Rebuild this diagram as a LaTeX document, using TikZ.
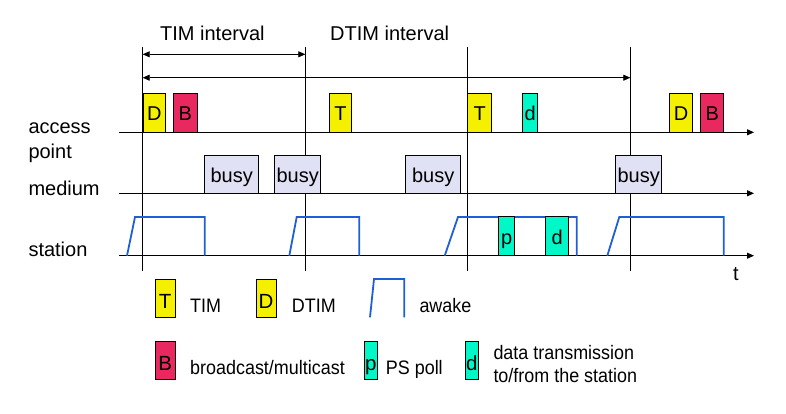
\documentclass[tikz,border=0pt]{standalone}
\usepackage{fontspec}
\setmainfont{Liberation Sans}
\newfontfamily\legfont[FakeStretch=0.92]{Liberation Sans}
\usetikzlibrary{arrows.meta}
\definecolor{dyel}{RGB}{245,240,0}
\definecolor{bred}{RGB}{232,40,95}
\definecolor{dcyan}{RGB}{0,248,200}
\definecolor{busyc}{RGB}{225,225,245}
\definecolor{awblue}{RGB}{30,95,215}
\tikzset{
  tip/.style={-{Triangle[length=7pt,width=6pt]}},
  tiptwo/.style={{Triangle[length=7pt,width=6pt]}-{Triangle[length=7pt,width=6pt]}},
  blk/.style={draw=black,line width=0.8pt},
  axisline/.style={blk,tip},
  vline/.style={blk},
  awk/.style={draw=awblue,line width=1.8pt,line join=miter},
  pkt/.style={draw=black,line width=0.8pt,inner sep=0pt,anchor=south west,
    minimum height=39pt,text height=17pt,text depth=0pt,
    font=\fontsize{20}{24}\selectfont},
  busybox/.style={pkt,fill=busyc,minimum height=38pt,text height=18pt},
  legpkt/.style={draw=black,line width=0.8pt,inner sep=0pt,anchor=south west,
    minimum width=20pt,minimum height=38pt,text height=21pt,text depth=0pt,
    font=\fontsize{20.5}{24}\selectfont},
  lbl/.style={anchor=base west,inner sep=0pt,font=\fontsize{20}{24}\selectfont},
  leglbl/.style={anchor=base west,inner sep=0pt,font=\legfont\fontsize{19.5}{23}\selectfont},
}
\begin{document}
\begin{tikzpicture}[x=1pt,y=-1pt]
\useasboundingbox (0,0) rectangle (786,413);
% vertical marker lines
\foreach \n/\x in {va/142.7,vb/305.3,vc/467.3,vd/630.3}{
  \coordinate (\n t) at (\x,46.7);
  \coordinate (\n b) at (\x,270.7);
  \draw[vline] (\n t) -- (\n b);
}
% interval arrows
\coordinate (tims) at (142.7,54.3);
\coordinate (time) at (305.3,54.3);
\coordinate (dtims) at (142.7,77.7);
\coordinate (dtime) at (630.3,77.7);
\draw[blk,tiptwo] (tims) -- (time);
\draw[blk,tiptwo] (dtims) -- (dtime);
\node[lbl] (timlbl) at (160,40.7) {TIM interval};
\node[lbl] (dtimlbl) at (330,40.7) {DTIM interval};
% time axes
\coordinate (aps) at (119.3,132.3);
\coordinate (ape) at (754,132.3);
\coordinate (mes) at (119.3,193.3);
\coordinate (mee) at (754,193.3);
\coordinate (sts) at (119.3,255.7);
\coordinate (ste) at (754,255.7);
\draw[axisline] (aps) -- (ape);
\draw[axisline] (mes) -- (mee);
\draw[axisline] (sts) -- (ste);
% row labels
\node[lbl] (lacc) at (28.3,133.3) {access};
\node[lbl] (lpoint) at (28.3,158.3) {point};
\node[lbl] (lmed) at (28.3,195.7) {medium};
\node[lbl] (lsta) at (28.3,256.7) {station};
\node[lbl] (lt) at (733,280) {t};
% awake waves
\draw[awk] (127,255.7) -- (135,217) -- (204.7,217) -- (204.7,255.7);
\draw[awk] (289.3,255.7) -- (296.7,217) -- (359.3,217) -- (359.3,255.7);
\draw[awk] (444.7,255.7) -- (458,217) -- (576.7,217) -- (576.7,255.7);
\draw[awk] (607.3,255.7) -- (619.3,217) -- (723.7,217) -- (723.7,255.7);
% access point packets
\node[pkt,fill=dyel,minimum width=22.6pt] (d1) at (142.7,132.3) {D};
\node[pkt,fill=bred,minimum width=23.4pt] (b1) at (173.3,132.3) {B};
\node[pkt,fill=dyel,minimum width=22.6pt] (t1) at (328.7,132.3) {T};
\node[pkt,fill=dyel,minimum width=24pt] (t2) at (467.3,132.3) {T};
\node[pkt,fill=dcyan,minimum width=15pt] (dd1) at (522.3,132.3) {d};
\node[pkt,fill=dyel,minimum width=23pt] (d2) at (669.3,132.3) {D};
\node[pkt,fill=bred,minimum width=23pt] (b2) at (700.3,132.3) {B};
% medium busy
\node[busybox,minimum width=54pt] (busy1) at (204.3,193.3) {busy};
\node[busybox,minimum width=46pt] (busy2) at (274.3,193.3) {busy};
\node[busybox,minimum width=55pt] (busy3) at (405.3,193.3) {busy};
\node[busybox,minimum width=46pt] (busy4) at (615.3,193.3) {busy};
% station packets
\node[pkt,fill=dcyan,minimum width=16pt,minimum height=38.7pt] (p1) at (498.3,255.7) {p};
\node[pkt,fill=dcyan,minimum width=23pt,minimum height=38.7pt] (dd2) at (545.3,255.7) {d};
% legend
\node[legpkt,fill=dyel] (lgT) at (154.7,317.3) {T};
\node[leglbl] (lgTt) at (190,312.7) {TIM};
\node[legpkt,fill=dyel] (lgD) at (255.7,317.3) {D};
\node[leglbl] (lgDt) at (291.7,312.7) {DTIM};
\draw[awk] (370,317.3) -- (374,279) -- (404.3,279) -- (404.3,317.3);
\node[leglbl] (lgAt) at (419.3,312.7) {awake};
\node[legpkt,fill=bred] (lgB) at (154.7,379.3) {B};
\node[leglbl] (lgBt) at (190,374) {broadcast/multicast};
\node[legpkt,fill=dcyan,minimum width=13.3pt] (lgp) at (363.7,379.3) {p};
\node[leglbl] (lgpt) at (385.7,374) {PS poll};
\node[legpkt,fill=dcyan,minimum width=13.3pt] (lgd) at (464.7,379.3) {d};
\node[leglbl] (lgdt1) at (493.3,359.3) {data transmission};
\node[leglbl] (lgdt2) at (493.3,382.7) {to/from the station};
\end{tikzpicture}
\end{document}
